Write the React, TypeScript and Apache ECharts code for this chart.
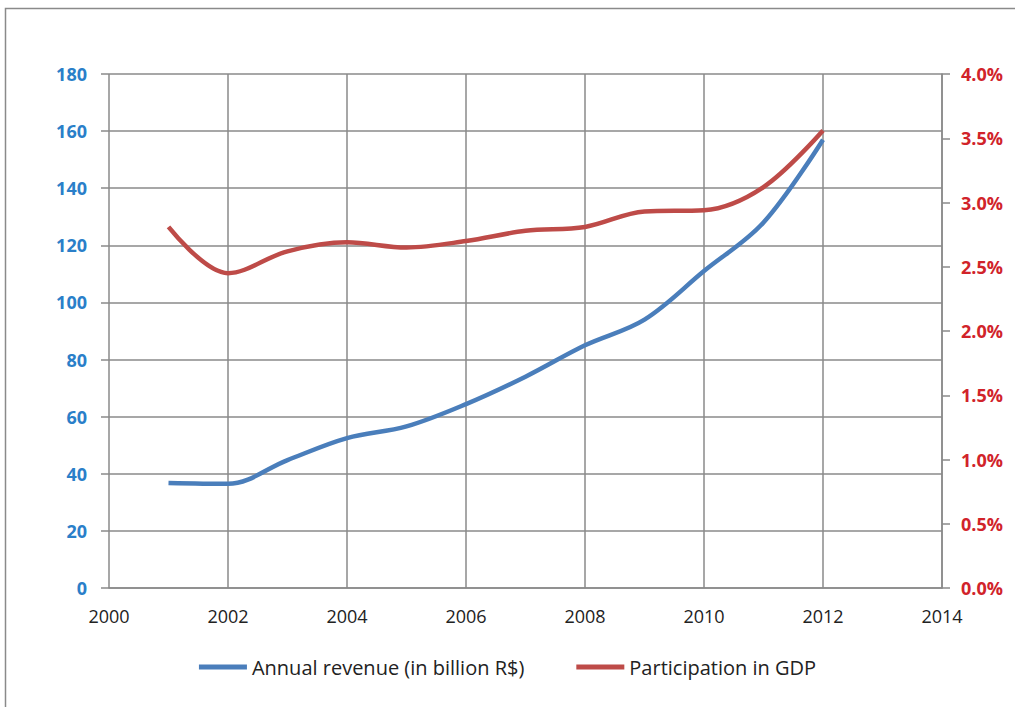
import React, { useEffect, useRef } from "react";
import * as echarts from "echarts";

const years = [2001, 2002, 2003, 2004, 2005, 2006, 2007, 2008, 2009, 2010, 2011, 2012];
const revenue = [36.8, 36.5, 44.8, 52.5, 56.6, 64.4, 74, 85, 94, 111, 128, 157];
const gdpShare = [2.81, 2.45, 2.62, 2.69, 2.65, 2.7, 2.78, 2.81, 2.93, 2.94, 3.12, 3.56];
const xTicks = { min: 2000, max: 2014, interval: 2 };
const leftTicks = { min: 0, max: 180, interval: 20 };
const rightTicks = { min: 0, max: 4, interval: 0.5 };

const FONT = "'Open Sans', 'Noto Sans', sans-serif";

export default function App() {
  const ref = useRef<HTMLDivElement>(null);
  useEffect(() => {
    document.body.style.margin = "0";
    const chart = echarts.init(ref.current!, undefined, { renderer: "svg" });
    chart.setOption({
      animation: false,
      backgroundColor: "#ffffff",
      graphic: [
        {
          type: "rect",
          shape: { x: 5.5, y: 8.5, width: 1020, height: 710 },
          style: { fill: "none", stroke: "#8a8a8a", lineWidth: 1.5 },
          silent: true,
        },
      ],
      grid: { left: 109, right: 73, top: 74, bottom: 119, containLabel: false },
      legend: {
        bottom: 25,
        left: "center",
        itemWidth: 48,
        itemHeight: 5,
        itemGap: 52,
        icon: "rect",
        textStyle: { fontFamily: FONT, fontSize: 20, color: "#222" },
        data: ["Annual revenue (in billion R$)", "Participation in GDP"],
      },
      xAxis: {
        type: "value",
        min: xTicks.min,
        max: xTicks.max,
        interval: xTicks.interval,
        axisLine: { show: true, lineStyle: { color: "#8a8a8a", width: 1.5 } },
        axisTick: { show: false },
        splitLine: { show: true, lineStyle: { color: "#8a8a8a", width: 1.5 } },
        axisLabel: {
          margin: 19,
          fontFamily: FONT,
          fontSize: 18,
          color: "#222",
          formatter: (v: number) => String(v),
        },
      },
      yAxis: [
        {
          type: "value",
          min: leftTicks.min,
          max: leftTicks.max,
          interval: leftTicks.interval,
          position: "left",
          axisLine: { show: false },
          axisTick: { show: true, length: 8, lineStyle: { color: "#8a8a8a", width: 1.5 } },
          splitLine: { show: true, lineStyle: { color: "#8a8a8a", width: 1.5 } },
          axisLabel: {
            margin: 22,
            fontFamily: FONT,
            fontSize: 18,
            fontWeight: "bold",
            color: "#2a7fc9",
          },
        },
        {
          type: "value",
          min: rightTicks.min,
          max: rightTicks.max,
          interval: rightTicks.interval,
          position: "right",
          axisLine: { show: true, lineStyle: { color: "#8a8a8a", width: 1.5 } },
          axisTick: { show: true, length: 8, lineStyle: { color: "#8a8a8a", width: 1.5 } },
          splitLine: { show: false },
          axisLabel: {
            margin: 19,
            fontFamily: FONT,
            fontSize: 18,
            fontWeight: "bold",
            color: "#d1232a",
            formatter: (v: number) => v.toFixed(1) + "%",
          },
        },
      ],
      series: [
        {
          name: "Annual revenue (in billion R$)",
          type: "line",
          yAxisIndex: 0,
          smooth: 0.35,
          showSymbol: false,
          symbol: "none",
          data: years.map((y, i) => [y, revenue[i]]),
          lineStyle: { color: "#4a7ebb", width: 4.5 },
          itemStyle: { color: "#4a7ebb" },
        },
        {
          name: "Participation in GDP",
          type: "line",
          yAxisIndex: 1,
          smooth: 0.35,
          showSymbol: false,
          symbol: "none",
          data: years.map((y, i) => [y, gdpShare[i]]),
          lineStyle: { color: "#be4b48", width: 4.5 },
          itemStyle: { color: "#be4b48" },
        },
      ],
    });
    return () => chart.dispose();
  }, []);
  return <div ref={ref} style={{ width: 1015, height: 707 }} />;
}
